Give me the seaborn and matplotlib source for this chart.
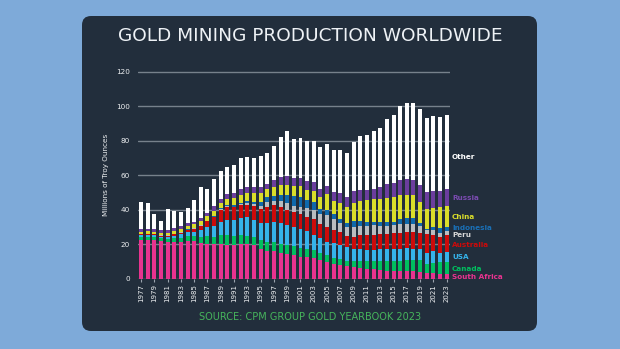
import matplotlib
matplotlib.use("Agg")
import matplotlib.pyplot as plt
from matplotlib.patches import FancyBboxPatch
import pandas as pd
import seaborn as sns

years = list(range(1977, 2024))

# Mine output by country, millions of troy ounces (1977 .. 2023)
south_africa = [22.5, 22.6, 22.6, 21.7, 21.1, 21.3, 21.3, 21.9, 21.6, 20.5,
                20.3, 19.9, 19.9, 19.5, 19.5, 19.9, 20.1, 19.2, 17.0, 15.9,
                15.7, 14.7, 14.3, 13.5, 12.4, 12.4, 12.0, 10.8, 9.3, 8.5,
                7.9, 7.0, 6.6, 6.2, 5.8, 5.4, 5.0, 4.6, 4.5, 4.3,
                4.3, 4.1, 3.5, 3.1, 3.1, 2.9, 2.9]
canada = [1.7, 1.7, 1.6, 1.6, 1.7, 2.1, 2.4, 2.8, 2.9, 3.8,
          4.5, 4.3, 5.1, 5.5, 5.3, 5.1, 4.7, 4.8, 5.1, 5.6,
          5.4, 5.4, 5.1, 5.1, 5.6, 5.0, 4.6, 4.3, 4.4, 3.7,
          3.7, 3.3, 3.5, 3.7, 4.1, 4.5, 5.1, 5.7, 5.8, 6.0,
          6.3, 6.7, 7.0, 5.4, 5.8, 6.4, 6.4]
usa = [1.0, 1.0, 1.0, 1.0, 1.4, 1.5, 2.0, 2.1, 2.4, 4.0,
       5.0, 6.5, 8.1, 9.1, 9.3, 10.4, 10.8, 10.1, 10.0, 11.0,
       11.6, 12.0, 11.8, 11.2, 10.6, 10.1, 8.9, 8.3, 7.8, 8.3,
       7.8, 7.9, 7.3, 7.1, 6.7, 6.7, 6.9, 6.7, 6.7, 7.1,
       7.0, 6.6, 6.5, 6.2, 6.8, 5.4, 6.0]
australia = [0.6, 0.6, 0.6, 0.6, 0.6, 0.9, 1.0, 1.3, 1.9, 2.4,
             3.5, 5.0, 6.8, 7.7, 7.3, 7.6, 7.4, 8.1, 8.5, 9.3,
             10.1, 9.7, 8.7, 9.1, 8.9, 8.1, 8.9, 8.3, 8.7, 7.8,
             7.9, 6.6, 6.6, 8.4, 8.8, 8.9, 8.9, 8.7, 9.3, 9.3,
             9.5, 9.9, 9.7, 11.2, 9.7, 9.7, 10.0]
peru = [0.1, 0.1, 0.1, 0.2, 0.2, 0.2, 0.2, 0.3, 0.3, 0.3,
        0.3, 0.3, 0.3, 0.3, 0.3, 0.4, 0.6, 0.9, 1.6, 2.7,
        2.5, 3.1, 4.2, 3.5, 4.3, 5.2, 5.5, 5.8, 6.8, 6.1,
        5.2, 5.4, 6.2, 5.2, 5.2, 5.5, 4.7, 4.9, 4.7, 4.8,
        4.6, 4.4, 3.9, 2.0, 2.5, 2.3, 2.4]
indonesia = [0.1, 0.1, 0.1, 0.1, 0.1, 0.1, 0.1, 0.1, 0.1, 0.1,
             0.1, 0.1, 0.5, 0.7, 0.9, 0.7, 1.3, 1.6, 2.5, 3.1,
             2.7, 3.9, 4.5, 5.6, 5.8, 4.9, 4.6, 3.1, 2.9, 3.1,
             2.3, 1.9, 3.5, 2.7, 2.5, 1.9, 2.3, 2.3, 2.1, 2.9,
             3.3, 3.7, 1.5, 1.1, 2.3, 2.5, 2.2]
china = [1.3, 1.3, 1.3, 1.3, 1.6, 1.7, 2.0, 2.0, 2.2, 2.3,
         2.6, 3.4, 3.0, 3.3, 4.2, 4.7, 4.6, 4.8, 4.8, 4.3,
         5.2, 5.4, 6.0, 5.8, 6.0, 6.0, 6.4, 6.6, 9.1, 7.8,
         9.3, 9.7, 10.4, 11.6, 12.6, 13.2, 13.5, 13.9, 14.1, 14.0,
         13.8, 13.2, 12.4, 11.6, 11.0, 12.2, 12.1]
russia = [1.4, 1.4, 1.4, 1.4, 1.4, 1.4, 1.5, 1.5, 1.5, 1.9,
          2.0, 2.7, 2.7, 3.1, 3.1, 3.5, 3.9, 3.9, 3.9, 3.1,
          4.1, 4.6, 5.0, 4.6, 4.8, 5.0, 5.2, 5.1, 4.8, 4.8,
          5.8, 5.4, 6.8, 6.6, 5.8, 5.8, 7.0, 8.0, 8.2, 8.9,
          9.1, 8.7, 9.7, 9.7, 9.7, 9.5, 9.9]
other = [15.6, 15.3, 8.6, 5.6, 12.1, 9.9, 8.4, 8.7, 12.5, 18.1,
         13.6, 15.7, 16.1, 15.4, 16.1, 17.6, 17.4, 16.9, 17.6, 18.2,
         19.5, 23.2, 25.9, 22.9, 23.3, 23.4, 24.0, 24.3, 24.4, 24.6,
         24.8, 26.0, 28.3, 31.3, 31.7, 33.6, 34.1, 37.7, 39.4, 43.0,
         44.1, 44.5, 44.1, 43.2, 43.4, 43.0, 43.1]

countries = ["South Africa", "Canada", "USA", "Australia", "Peru",
             "Indonesia", "China", "Russia", "Other"]
series = [south_africa, canada, usa, australia, peru,
          indonesia, china, russia, other]
colors = ["#e8338f", "#00bf5f", "#35b3ea", "#cc0a0a", "#b9bcc0",
          "#0e68ab", "#dade2a", "#6b3d9e", "#ffffff"]
label_colors = ["#e8338f", "#00bf5f", "#35b3ea", "#cc0a0a", "#d8d8d8",
                "#1a6fb5", "#dade2a", "#7a4bb0", "#ffffff"]

df = pd.DataFrame({
    "year": [y for _ in countries for y in years],
    "country": [c for c in countries for _ in years],
    "moz": [v for s in series for v in s],
})

sns.set_theme(style="white")
plt.rcParams["font.family"] = ["DejaVu Sans"]

W, H = 620, 349
fig = plt.figure(figsize=(W / 100, H / 100), dpi=100)
fig.patch.set_facecolor("#7eaad9")

card_color = "#222e3c"
card = FancyBboxPatch((82 / 100, (H - 331) / 100), 455 / 100, 315 / 100,
                      boxstyle="round,pad=0,rounding_size=0.09",
                      transform=fig.dpi_scale_trans, facecolor=card_color,
                      edgecolor="none", zorder=-5)
fig.patches.append(card)

ax_l, ax_r = 137.7, 450.0
ax_b, ax_t = 278.5, 278.5 - 206.5 * 121 / 120
ax = fig.add_axes([ax_l / W, 1 - ax_b / H, (ax_r - ax_l) / W, (ax_b - ax_t) / H])
ax.set_facecolor("none")

# histplot stacks the first hue level on top, so feed it top-down
sns.histplot(data=df, x="year", weights="moz", hue="country",
             hue_order=countries[::-1],
             palette=dict(zip(countries, colors)),
             multiple="stack", discrete=True, shrink=0.6,
             alpha=1, linewidth=0, legend=False, ax=ax)

ax.set_xlim(1976.5, 2023.5)
ax.set_ylim(0, 121)
ax.set_yticks(range(0, 121, 20))
ax.set_xticks(list(range(1977, 2024, 2)))
ax.set_xticklabels([str(y) for y in range(1977, 2024, 2)], rotation=90)
ax.set_axisbelow(True)
ax.grid(axis="y", color="#77818c", linewidth=1.0)
ax.grid(axis="x", visible=False)
for s in ax.spines.values():
    s.set_visible(False)
ax.tick_params(axis="x", colors="#9aa3ad", length=2.5, width=0.8, pad=1.5,
               labelsize=5, labelcolor="#eef0f2", bottom=True)
ax.tick_params(axis="y", length=0, pad=5.5, labelsize=5.2, labelcolor="#eef0f2")
ax.set_xlabel("")
ax.set_ylabel("Millions of Troy Ounces", color="#eef0f2", fontsize=5.2, labelpad=5)

# Series names beside the last bar, at the middle of each segment
last = [s[-1] for s in series]
nudge = {"Other": -3.0, "Peru": -1.0, "Indonesia": 0.4, "Australia": -1.0,
         "South Africa": -0.6, "Canada": -0.3}
base = 0.0
for name, val, col in zip(countries, last, label_colors):
    mid = base + val / 2 + nudge.get(name, 0.0)
    ax.text(2023.8, mid, name, color=col, fontsize=5.2, fontweight="bold",
            ha="left", va="center", clip_on=False)
    base += val

fig.text(0.5, 1 - 35.7 / H, "GOLD MINING PRODUCTION WORLDWIDE",
         ha="center", va="center", color="#eef2f6", fontsize=13.3)
fig.text(0.5, 1 - 317 / H, "SOURCE: CPM GROUP GOLD YEARBOOK 2023",
         ha="center", va="center", color="#46b55c", fontsize=7)

fig.savefig("out.png", dpi=100, facecolor=fig.get_facecolor())
